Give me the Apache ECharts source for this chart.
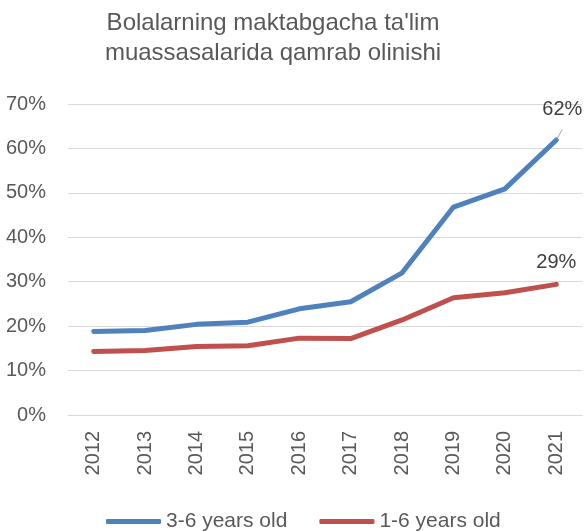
<!DOCTYPE html>
<html lang="en">
<head>
    <meta charset="UTF-8">
    <title>Bolalarning maktabgacha ta'lim muassasalarida qamrab olinishi</title>
    <script src="https://cdn.jsdelivr.net/npm/echarts@6/dist/echarts.min.js"></script>
    <style>
        html, body { margin: 0; padding: 0; background: #fff; }
        #paint { width: 586px; height: 531px; }
    </style>
</head>
<body>
<div id="paint"></div>
<script type="text/javascript">
    var years = ['2012', '2013', '2014', '2015', '2016', '2017', '2018', '2019', '2020', '2021'];
    var age36 = [18.8, 19.0, 20.4, 20.9, 23.9, 25.5, 32.0, 46.8, 50.9, 61.9];
    var age16 = [14.3, 14.5, 15.4, 15.6, 17.3, 17.2, 21.4, 26.4, 27.5, 29.4];
    var seriesNames = ['3-6 years old', '1-6 years old'];
    var txt = '#595959';
    var font = 'Liberation Sans';

    // only the last point gets a label
    function withLastLabel(arr, offset) {
        return arr.map(function (v, i) {
            if (i < arr.length - 1) return v;
            return {
                value: v,
                label: {
                    show: true, position: 'top', offset: offset,
                    formatter: function (p) { return Math.round(p.value) + '%'; },
                    color: '#404040', fontSize: 20, fontFamily: font
                }
            };
        });
    }

    var myChart = echarts.init(document.getElementById('paint'));
    var option = {
        animation: false,
        title: {
            text: "Bolalarning maktabgacha ta'lim\nmuassasalarida qamrab olinishi",
            left: 268, top: 3, textAlign: 'center',
            textStyle: { color: txt, fontSize: 24, fontWeight: 'normal', fontFamily: font, lineHeight: 30 }
        },
        grid: { left: 68, right: 4, top: 104, bottom: 116 },
        legend: {
            left: 101, top: 506,
            itemWidth: 55, itemHeight: 5, itemGap: 32,
            icon: 'roundRect',
            textStyle: { color: txt, fontSize: 21, fontFamily: font },
            data: seriesNames
        },
        xAxis: {
            type: 'category', data: years, boundaryGap: true,
            axisLine: { lineStyle: { color: '#d9d9d9' } },
            axisTick: { show: false },
            axisLabel: { rotate: 90, color: txt, fontSize: 20, fontFamily: font, margin: 16 }
        },
        yAxis: {
            type: 'value', min: 0, max: 70, interval: 10,
            axisLine: { show: false }, axisTick: { show: false },
            splitLine: { lineStyle: { color: '#d9d9d9', width: 1 } },
            axisLabel: { formatter: '{value}%', color: txt, fontSize: 20, fontFamily: font, margin: 22 }
        },
        series: [{
            name: seriesNames[0], type: 'line',
            data: withLastLabel(age36, [6, -15]),
            symbol: 'circle', symbolSize: 1, showSymbol: true,
            color: '#4f81bd',
            lineStyle: { width: 5, cap: 'round', join: 'round' },
            labelLine: { show: true, lineStyle: { color: '#a6a6a6', width: 1 } }
        }, {
            name: seriesNames[1], type: 'line',
            data: withLastLabel(age16, [0, -6]),
            symbol: 'circle', symbolSize: 1, showSymbol: true,
            color: '#c0504d',
            lineStyle: { width: 5, cap: 'round', join: 'round' }
        }]
    };
    myChart.setOption(option);
</script>
</body>
</html>
